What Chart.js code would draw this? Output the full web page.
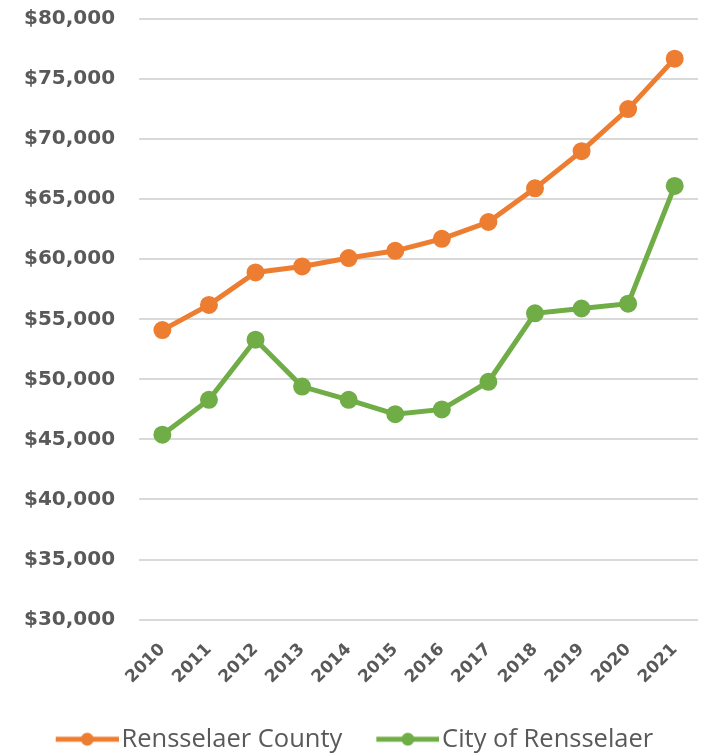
<!DOCTYPE html>
<html>
<head>
<meta charset="utf-8">
<script src="https://cdn.jsdelivr.net/npm/chart.js@4"></script>
<style>
  html, body { margin: 0; padding: 0; background: #fff; }
  #wrap { width: 702px; height: 755px; }
</style>
</head>
<body>
<div id="wrap"><canvas id="myChart" width="702" height="755"></canvas></div>
<script>
// Median household income
var years = ['2010', '2011', '2012', '2013', '2014', '2015', '2016', '2017', '2018', '2019', '2020', '2021'];
var countyValues = [54100, 56200, 58900, 59400, 60100, 60700, 61700, 63100, 65900, 69000, 72500, 76700];
var cityValues = [45400, 48300, 53300, 49400, 48300, 47100, 47500, 49800, 55500, 55900, 56300, 66100];

var ORANGE = '#ED7D31';
var GREEN = '#70AD47';
var TEXT = '#595959';

// legend marker: short line with a dot in the middle
function legendMarker(color) {
    var c = document.createElement('canvas');
    c.width = 80;
    c.height = 16;
    var ctx = c.getContext('2d');
    ctx.strokeStyle = color;
    ctx.lineWidth = 5;
    ctx.beginPath();
    ctx.moveTo(17, 8);
    ctx.lineTo(80, 8);
    ctx.stroke();
    ctx.fillStyle = color;
    ctx.beginPath();
    ctx.arc(48.5, 8, 6.5, 0, Math.PI * 2);
    ctx.fill();
    return c;
}

new Chart("myChart", {
    type: "line",
    data: {
        labels: years,
        datasets: [{
            label: 'Rensselaer County',
            data: countyValues,
            borderColor: ORANGE,
            backgroundColor: ORANGE,
            borderWidth: 5,
            radius: 6.5,
            lineTension: 0,
            fill: false
        }, {
            label: 'City of Rensselaer',
            data: cityValues,
            borderColor: GREEN,
            backgroundColor: GREEN,
            borderWidth: 5,
            radius: 6.5,
            lineTension: 0,
            fill: false
        }]
    },
    options: {
        responsive: false,
        animation: false,
        layout: {
            autoPadding: false,
            padding: { left: 0, right: 0, top: 19, bottom: -7 }
        },
        scales: {
            x: {
                offset: true,
                grid: { display: false },
                border: { display: false },
                ticks: {
                    color: TEXT,
                    minRotation: 45,
                    maxRotation: 45,
                    padding: 12,
                    font: { family: 'DejaVu Sans', size: 17, weight: 'bold' }
                },
                afterFit: function (scale) {
                    scale.paddingRight = 4;
                }
            },
            y: {
                min: 30000,
                max: 80000,
                grid: { color: '#d9d9d9', lineWidth: 2, drawTicks: false },
                border: { display: false },
                ticks: {
                    stepSize: 5000,
                    padding: 24,
                    color: TEXT,
                    font: { family: 'DejaVu Sans', size: 20, weight: 'bold' },
                    callback: function (v) {
                        return '$' + v.toLocaleString('en-US');
                    }
                },
                afterFit: function (scale) {
                    // keep the label gap from pushing the plot down
                    scale.paddingTop = 11;
                    scale.paddingBottom = 11;
                }
            }
        },
        plugins: {
            legend: {
                position: 'bottom',
                labels: {
                    usePointStyle: true,
                    pointStyleWidth: 60,
                    padding: 27,
                    color: TEXT,
                    font: { family: 'Open Sans', size: 25.5 },
                    generateLabels: function (chart) {
                        return chart.data.datasets.map(function (ds, i) {
                            return {
                                text: ds.label,
                                fontColor: TEXT,
                                pointStyle: legendMarker(ds.borderColor),
                                lineWidth: 0,
                                strokeStyle: 'transparent',
                                fillStyle: ds.borderColor,
                                datasetIndex: i
                            };
                        });
                    }
                }
            },
            tooltip: { enabled: false }
        }
    }
});
</script>
</body>
</html>
